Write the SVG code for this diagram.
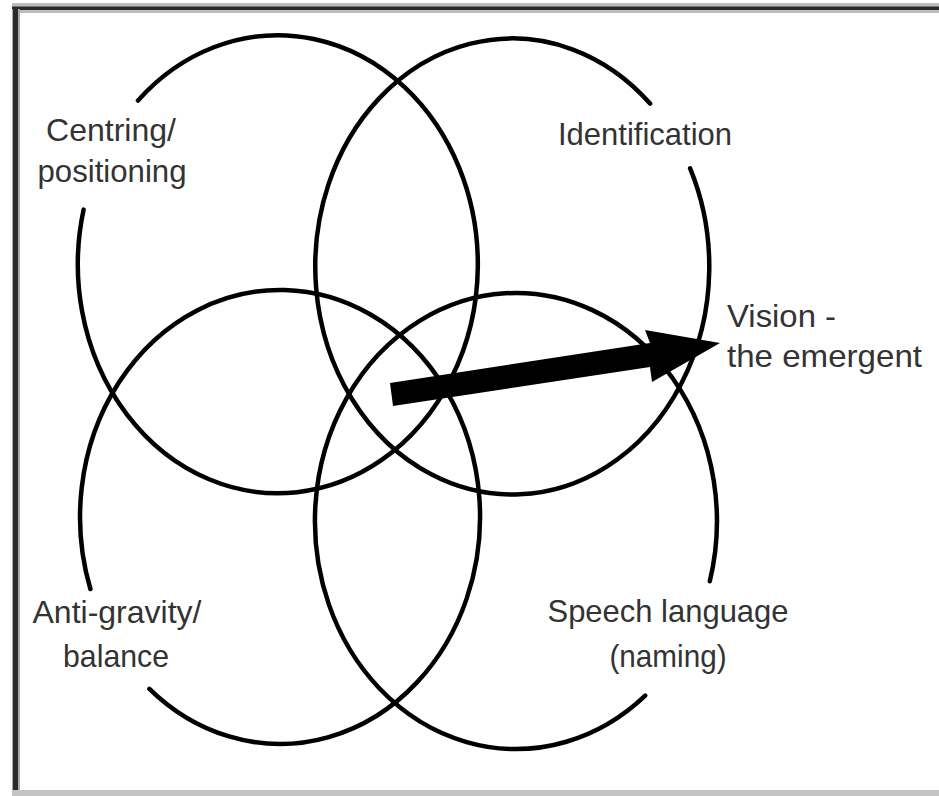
<svg xmlns="http://www.w3.org/2000/svg" width="939" height="796" viewBox="0 0 939 796">
<style>
.ring{fill:none;stroke:#000;stroke-width:4.5;stroke-linecap:round}
.lbl{font-family:"Liberation Sans",Arial,sans-serif;font-size:32px;fill:#333}
</style>
<rect width="939" height="796" fill="#fff"/>
<g id="frame">
<rect x="12" y="3" width="927" height="10" fill="#bdbdbd"/>
<rect x="12" y="6.5" width="927" height="3.5" fill="#2a2a2a"/>
<rect x="12" y="9" width="8" height="787" fill="#a8a8a8"/>
<rect x="13" y="9" width="5" height="787" fill="#2a2a2a"/>
<rect x="12" y="790" width="927" height="6" fill="#c4c4c4"/>
</g>
<g id="centring">
<path class="ring" d="M138,100.5 A200,229 0 1 1 83.6,209.6"/>
<text class="lbl" text-anchor="middle" x="111" y="141" textLength="130" lengthAdjust="spacingAndGlyphs">Centring/</text>
<text class="lbl" text-anchor="middle" x="112" y="182" textLength="149" lengthAdjust="spacingAndGlyphs">positioning</text>
</g>
<g id="identification">
<path class="ring" d="M690.1,168.4 A197,228 0 1 1 650.1,103.6"/>
<text class="lbl" text-anchor="middle" x="645" y="145" textLength="174" lengthAdjust="spacingAndGlyphs">Identification</text>
</g>
<g id="antigravity">
<path class="ring" d="M90.4,589 A200,227 0 1 1 149.4,688.8"/>
<text class="lbl" text-anchor="middle" x="117" y="623" textLength="169" lengthAdjust="spacingAndGlyphs">Anti-gravity/</text>
<text class="lbl" text-anchor="middle" x="116" y="667" textLength="106" lengthAdjust="spacingAndGlyphs">balance</text>
</g>
<g id="speech">
<path class="ring" d="M645.2,695.6 A201,228 0 1 1 709.8,581.2"/>
<text class="lbl" text-anchor="middle" x="668" y="622" textLength="241" lengthAdjust="spacingAndGlyphs">Speech language</text>
<text class="lbl" text-anchor="middle" x="668" y="667" textLength="117" lengthAdjust="spacingAndGlyphs">(naming)</text>
</g>
<g id="vision">
<text class="lbl" x="727" y="327" textLength="109" lengthAdjust="spacingAndGlyphs">Vision -</text>
<text class="lbl" x="727" y="367" textLength="195" lengthAdjust="spacingAndGlyphs">the emergent</text>
</g>
<g id="connectors">
<polygon points="390,383 650,343 645,330 720,343 652,382 650,367 393,406" fill="#000"/>
</g>
</svg>
